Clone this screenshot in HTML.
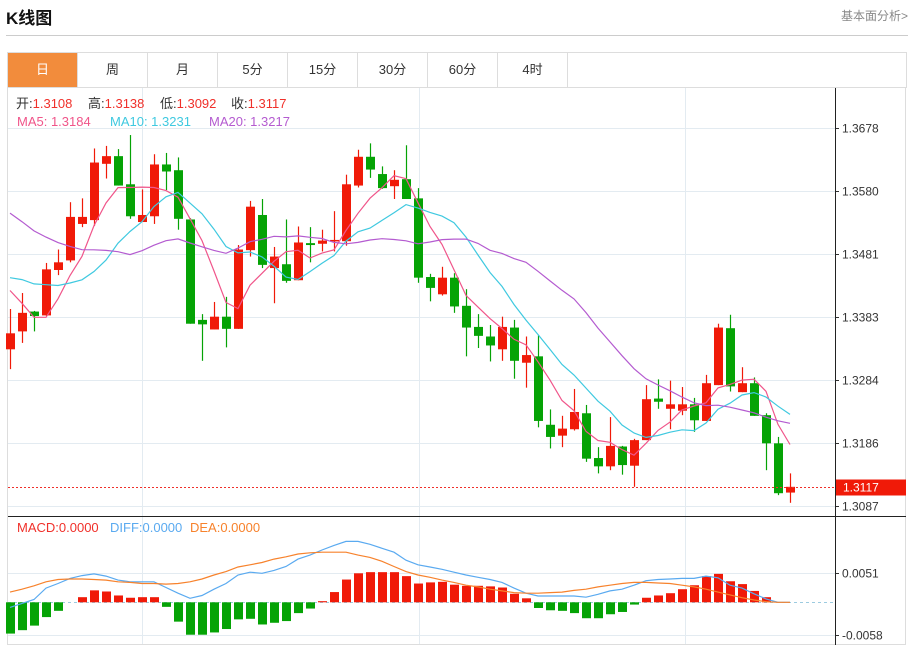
<!DOCTYPE html>
<html><head><meta charset="utf-8">
<style>
body{margin:0;width:914px;height:647px;background:#fff;font-family:"Liberation Sans","Noto Sans CJK SC",sans-serif;overflow:hidden;position:relative}
#title{position:absolute;left:6px;top:4px;font-size:17px;font-weight:bold;color:#111}
#more{position:absolute;right:6px;top:7px;font-size:12px;color:#888}
#hline{position:absolute;left:6px;top:35px;width:902px;height:1px;background:#ccc}
#tabs{position:absolute;left:7px;top:52px;width:898px;height:34px;border:1px solid #ddd;display:flex}
.tab{width:70px;height:34px;line-height:34px;text-align:center;font-size:13px;color:#333;border-right:1px solid #ddd;box-sizing:border-box}
.tab.on{background:#f28c3c;color:#fff}
svg{position:absolute;left:0;top:0}
</style></head><body>
<div id="title">K线图</div>
<div id="more">基本面分析&gt;</div>
<div id="hline"></div>
<div id="tabs">
<div class="tab on">日</div>
<div class="tab">周</div>
<div class="tab">月</div>
<div class="tab">5分</div>
<div class="tab">15分</div>
<div class="tab">30分</div>
<div class="tab">60分</div>
<div class="tab">4时</div>
</div>
<svg id="chart" width="914" height="647"></svg>
<script>
const opens=[1.3332,1.3360,1.3391,1.3385,1.3456,1.3471,1.3528,1.3534,1.3622,1.3634,1.3590,1.3531,1.3540,1.3621,1.3612,1.3535,1.3378,1.3363,1.3383,1.3364,1.3487,1.3542,1.3459,1.3465,1.3440,1.3498,1.3497,1.3501,1.3501,1.3588,1.3633,1.3606,1.3587,1.3598,1.3568,1.3445,1.3418,1.3444,1.3400,1.3367,1.3352,1.3332,1.3366,1.3311,1.3321,1.3214,1.3197,1.3207,1.3232,1.3162,1.3149,1.3180,1.3150,1.3190,1.3255,1.3239,1.3236,1.3246,1.3220,1.3276,1.3365,1.3265,1.3279,1.3229,1.3185,1.3108];
const highs=[1.3395,1.3420,1.3392,1.3467,1.3488,1.3562,1.3568,1.3646,1.3650,1.3645,1.3667,1.3582,1.3637,1.3639,1.3632,1.3537,1.3387,1.3406,1.3414,1.3495,1.3564,1.3567,1.3492,1.3535,1.3524,1.3523,1.3519,1.3548,1.3605,1.3644,1.3654,1.3618,1.3612,1.3651,1.3584,1.3450,1.3461,1.3451,1.3426,1.3387,1.3370,1.3383,1.3378,1.3352,1.3354,1.3238,1.3228,1.3270,1.3245,1.3179,1.3226,1.3181,1.3192,1.3276,1.3285,1.3283,1.3273,1.3256,1.3292,1.3372,1.3386,1.3304,1.3288,1.3232,1.3195,1.3138];
const lows=[1.3301,1.3342,1.3360,1.3384,1.3448,1.3468,1.3523,1.3525,1.3599,1.3588,1.3536,1.3531,1.3528,1.3581,1.3519,1.3372,1.3314,1.3363,1.3335,1.3364,1.3477,1.3459,1.3404,1.3436,1.3440,1.3468,1.3485,1.3485,1.3494,1.3585,1.3600,1.3583,1.3567,1.3567,1.3436,1.3407,1.3416,1.3389,1.3321,1.3334,1.3313,1.3314,1.3286,1.3272,1.3210,1.3177,1.3179,1.3205,1.3156,1.3138,1.3143,1.3136,1.3117,1.3190,1.3239,1.3207,1.3229,1.3203,1.3220,1.3276,1.3266,1.3265,1.3228,1.3143,1.3104,1.3092];
const closes=[1.3357,1.3389,1.3384,1.3457,1.3468,1.3539,1.3539,1.3624,1.3634,1.3588,1.3540,1.3542,1.3621,1.3610,1.3536,1.3372,1.3371,1.3383,1.3364,1.3488,1.3555,1.3464,1.3477,1.3439,1.3499,1.3495,1.3502,1.3503,1.3590,1.3633,1.3613,1.3584,1.3597,1.3567,1.3444,1.3428,1.3444,1.3399,1.3366,1.3353,1.3338,1.3367,1.3314,1.3323,1.3220,1.3195,1.3208,1.3234,1.3161,1.3149,1.3181,1.3151,1.3190,1.3254,1.3250,1.3246,1.3246,1.3221,1.3279,1.3366,1.3274,1.3279,1.3228,1.3185,1.3107,1.3117];
const priorCloses=[1.3660,1.3670,1.3650,1.3640,1.3660,1.3640,1.3630,1.3650,1.3630,1.3630,1.3420,1.3450,1.3470,1.3480,1.3500,1.3489,1.3494,1.3457,1.3323];
const priceTicks=[1.3678,1.3580,1.3481,1.3383,1.3284,1.3186,1.3087];
const macdHist=[-55,-49,-41,-26,-15,0,9,21,19,12,8,9,9,-8,-34,-57,-57,-53,-47,-30,-29,-39,-36,-33,-19,-11,2,18,40,51,53,53,53,46,33,35,36,31,29,29,28,26,15,7,-10,-14,-15,-19,-28,-28,-21,-17,-4,8,12,16,23,30,46,50,37,32,20,9,0,0];
const diffVals=[-9,-2,5,25,33,42,47,50,46,39,36,36,36,26,16,7,12,23,33,48,53,51,56,63,76,83,92,100,107,107,102,95,88,74,66,62,58,53,48,44,40,35,25,16,11,11,11,11,9,14,20,23,30,38,40,41,42,42,46,43,30,25,15,6,0,0];
const deaVals=[18,23,29,36,40,41,41,40,39,36,35,33,33,32,33,36,41,48,54,62,66,70,76,80,85,87,88,88,88,83,79,72,63,54,48,44,39,35,30,27,23,20,17,16,16,17,18,21,23,27,30,33,35,35,34,33,30,27,23,18,13,8,4,1,0,0];
const macdTicks=[0.0051,-0.0058];

const NS='http://www.w3.org/2000/svg';
const svg=document.getElementById('chart');
function el(tag,attrs,parent){const e=document.createElementNS(NS,tag);for(const k in attrs)e.setAttribute(k,attrs[k]);(parent||svg).appendChild(e);return e;}
const X=i=>10+12*i;
const Y=p=>128+(1.3678-p)*6396;
const MY=v=>602.3-v*1e-4*5688;
const RED='#f01a08',GREEN='#05a305';

let g=el('rect',{x:7.5,y:87.5,width:898,height:557,fill:'none',stroke:'#ddd'});


[142,419,685].forEach(x=>{const l=el('line',{x1:x+.5,y1:88,x2:x+.5,y2:644,stroke:'#e3ebf1'});

});
priceTicks.forEach(p=>{const y=Math.round(Y(p))+.5;
const l=el('line',{x1:8,y1:y,x2:835,y2:y,stroke:'#e3ebf1'});


el('line',{x1:835,y1:y,x2:839,y2:y,stroke:'#333'});
const t=el('text',{x:842,y:y+4,'font-size':12,fill:'#333'});t.textContent=p.toFixed(4);

});
macdTicks.forEach(v=>{const y=Math.round(MY(v*1e4))+.5;
const l=el('line',{x1:8,y1:y,x2:835,y2:y,stroke:'#e3ebf1'});


el('line',{x1:835,y1:y,x2:839,y2:y,stroke:'#333'});
const t=el('text',{x:842,y:y+4,'font-size':12,fill:'#333'});t.textContent=v.toFixed(4);

});
let z=el('line',{x1:8,y1:602.5,x2:835,y2:602.5,stroke:'#9ccbe0','stroke-dasharray':'3,3'});


let ax=el('line',{x1:835.5,y1:88,x2:835.5,y2:645,stroke:'#222'});


let sep=el('line',{x1:8,y1:516.5,x2:906,y2:516.5,stroke:'#222'});



for(let i=0;i<closes.length;i++){
 const up=closes[i]>=opens[i],c=up?RED:GREEN,x=X(i);
 const grp=el('g',{});
 
 
 el('line',{x1:x+.5,y1:Y(highs[i]),x2:x+.5,y2:Y(lows[i]),stroke:c,'stroke-width':1.2},grp);
 const t=Y(Math.max(opens[i],closes[i])),b=Y(Math.min(opens[i],closes[i]));
 el('rect',{x:x-4,y:t,width:9,height:Math.max(1.5,b-t),fill:c},grp);
}
const allC=priorCloses.concat(closes),off=priorCloses.length;
function ma(n){const r=[];for(let i=0;i<closes.length;i++){let s=0;for(let k=0;k<n;k++)s+=allC[off+i-k];r.push(s/n);}return r;}
[[5,'#f0558a','ma5-line'],[10,'#3fc9e0','ma10-line'],[20,'#b45bd0','ma20-line']].forEach(([n,col,name])=>{
 const m=ma(n);const d=m.map((v,i)=>(i?'L':'M')+X(i).toFixed(1)+','+Y(v).toFixed(1)).join('');
 const p=el('path',{d:d,fill:'none',stroke:col,'stroke-width':1.2});
 
 
});
const last=closes[closes.length-1],ly=Math.round(Y(last))+.5;
let cl=el('line',{x1:8,y1:ly,x2:835,y2:ly,stroke:'#f0302a','stroke-dasharray':'2,2'});


let cr=el('rect',{x:836,y:ly-8,width:70,height:16,fill:'#f01a08'});


let ct=el('text',{x:843,y:ly+4,'font-size':12,fill:'#fff'});ct.textContent=last.toFixed(4);



for(let i=0;i<macdHist.length;i++){
 const v=macdHist[i];if(v===0)continue;const y0=MY(0),y1=MY(v);
 const r=el('rect',{x:X(i)-4,y:Math.min(y0,y1),width:9,height:Math.abs(y1-y0),fill:v>0?RED:GREEN});
 
 
}
[[diffVals,'#5aaaf0','diff-line'],[deaVals,'#f7822c','dea-line']].forEach(([arr,col,name])=>{
 const d=arr.map((v,i)=>(i?'L':'M')+X(i).toFixed(1)+','+MY(v).toFixed(1)).join('');
 const p=el('path',{d:d,fill:'none',stroke:col,'stroke-width':1.2});
 
 
});

function legend(y,items,name){const t=el('text',{x:16,y:y,'font-size':13});


items.forEach(([s,col,x])=>{const ts=el('tspan',{fill:col},t);if(x!==undefined)ts.setAttribute('x',x);ts.textContent=s;});}
const f=v=>v.toFixed(4);
legend(108,[['开:','#333',16],[f(opens[65]),'#f0302a'],['高:','#333',88],[f(highs[65]),'#f0302a'],['低:','#333',160],[f(lows[65]),'#f0302a'],['收:','#333',231],[f(closes[65]),'#f0302a']],'ohlc-legend');
legend(126,[['MA5: 1.3184','#f0558a',17],['MA10: 1.3231','#3fc9e0',110],['MA20: 1.3217','#b45bd0',209]],'ma-legend');
legend(532,[['MACD:0.0000','#f0302a',17],['DIFF:0.0000','#5aaaf0',110],['DEA:0.0000','#f7822c',190]],'macd-legend');
</script>
</body></html>
